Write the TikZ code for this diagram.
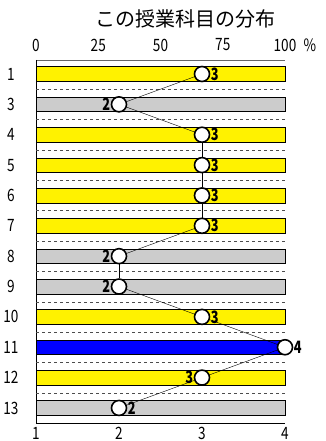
\documentclass[tikz,border=0pt]{standalone}
\usepackage{fontspec}
\setmainfont{Noto Sans CJK JP}
\usetikzlibrary{positioning}

\begin{document}
\begin{tikzpicture}[x=1pt,y=-1pt,
  bar/.style={draw=black,thin},
  dot/.style={circle,draw=black,line width=1.6pt,fill=white,minimum size=15pt,inner sep=0pt},
  val/.style={font=\bfseries\fontsize{17}{17}\selectfont,inner sep=0pt,xscale=0.75},
  tick/.style={font=\fontsize{17}{17}\selectfont,xscale=0.8},
  sep/.style={dashed,black!70,thin}]
\useasboundingbox (0,0) rectangle (325,441);

% title and scales
\node[font=\fontsize{20}{20}\selectfont] (title) at (185,19) {この授業科目の分布};
\foreach \p/\t in {0/0,25/25,50/50,75/75,100/100}
  \node[tick] (top\p) at (36+\p*2.49,45) {\t};
\node[tick] (pct) at (310,45) {\%};
\foreach \s in {1,2,3,4}
  \node[tick] (bot\s) at (36+\s*83-83,433) {\s};

% frame
\draw[black!60] (36,60) -- (285,60);
\draw (36,60) -- (36,423) -- (285,423);

% rows
\foreach \lab/\v/\col/\side [count=\n] in {1/3/yellow/right,3/2/black!20/left,4/3/yellow/right,
    5/3/yellow/right,6/3/yellow/right,7/3/yellow/right,8/2/black!20/left,9/2/black!20/left,
    10/3/yellow/right,11/4/blue/right,12/3/yellow/left,13/2/black!20/right}{
  \pgfmathsetmacro{\yy}{74+(\n-1)*30.36}
  \fill[\col,draw=black] (36,\yy-7.3) rectangle (285,\yy+7.3);
  \node[tick] (row\n) at (11,\yy) {\lab};
  \node[dot] (p\n) at (36+\v*83-83,\yy) {};
  \node[val,\side=0.3pt of p\n] (v\n) {\v};
}
\foreach \n in {1,...,11}
  \draw[sep] (36,89.2+\n*30.36-30.36) -- (285,89.2+\n*30.36-30.36);

% connectors
\foreach \n [evaluate=\n as \m using int(\n+1)] in {1,...,11}
  \draw (p\n) -- (p\m);

\end{tikzpicture}
\end{document}
